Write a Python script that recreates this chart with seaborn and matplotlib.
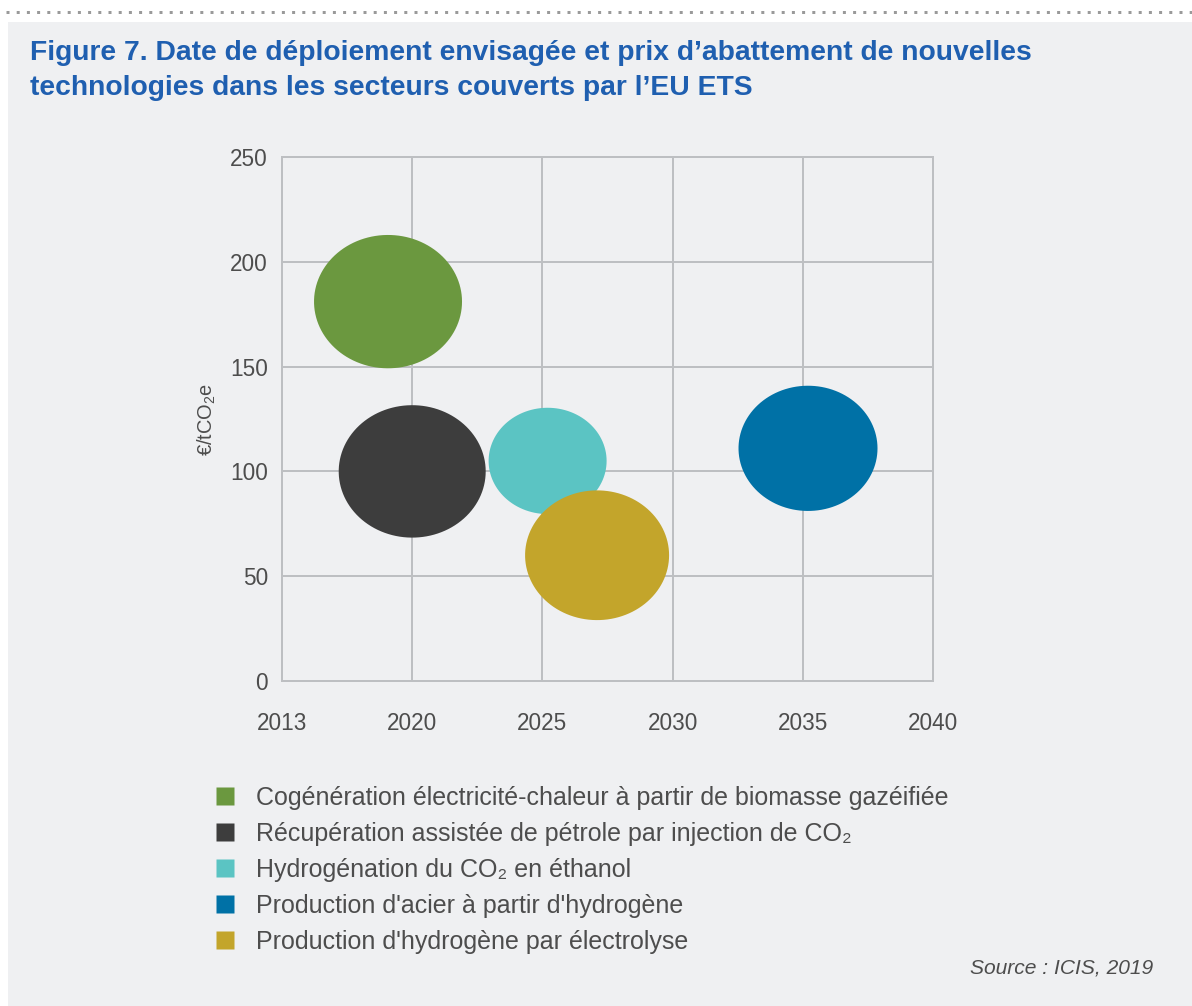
import numpy as np
import pandas as pd
import matplotlib
matplotlib.use("Agg")
import matplotlib.pyplot as plt
import matplotlib.path as mpath
from matplotlib.lines import Line2D
from matplotlib.patches import Rectangle
import seaborn as sns

# données
technologies = [
    "Cogénération électricité-chaleur à partir de biomasse gazéifiée",
    "Récupération assistée de pétrole par injection de CO₂",
    "Hydrogénation du CO₂ en éthanol",
    "Production d'acier à partir d'hydrogène",
    "Production d'hydrogène par électrolyse",
]
annee = [2018.7, 2020.0, 2025.2, 2035.2, 2027.1]
prix = [181, 100, 105, 111, 60]
taille_bulle = [148, 147, 118, 139, 144]
couleurs = ["#6b983f", "#3d3d3d", "#5bc4c3", "#0071a6", "#c3a52b"]

x_ticks = [2013, 2020, 2025, 2030, 2035, 2040]
y_ticks = [0, 50, 100, 150, 200, 250]

df = pd.DataFrame({"tech": technologies, "annee": annee, "prix": prix, "taille": taille_bulle})

sns.set_style("white")
plt.rcParams["font.family"] = ["Liberation Sans", "DejaVu Sans"]
plt.rcParams["mathtext.fontset"] = "custom"
plt.rcParams["mathtext.rm"] = "Liberation Sans"
plt.rcParams["mathtext.it"] = "Liberation Sans:italic"

fond = "#eff0f2"
gris_txt = "#4d4d4d"
gris_grille = "#bdbfc2"

DPI = 72
W, H = 1192, 1006
fig = plt.figure(figsize=(W / DPI, H / DPI), dpi=DPI, facecolor="white")
fig.patches.append(Rectangle((8 / W, 0), 1, 1 - 22 / H, transform=fig.transFigure,
                             facecolor=fond, edgecolor="none", zorder=-10))
fig.add_artist(Line2D([0.005, 1], [1 - 12 / H] * 2, transform=fig.transFigure,
                      color="#9a9a9a", lw=3, linestyle=(0, (1, 2.4))))

titre = ["Figure 7. Date de déploiement envisagée et prix d’abattement de nouvelles",
         "technologies dans les secteurs couverts par l’EU ETS"]
for ligne, yy in zip(titre, [53, 88]):
    fig.text(30 / W, 1 - yy / H, ligne, color="#1f5fb0", fontsize=28.2,
             fontweight="bold", va="center", ha="left")

ax = fig.add_axes([282 / W, 1 - 681 / H, 651 / W, 524 / H])
ax.set_facecolor(fond)

# axe des x : intervalles égaux entre les graduations
fwd = lambda v: np.interp(v, x_ticks, np.arange(len(x_ticks)))
inv = lambda v: np.interp(v, np.arange(len(x_ticks)), x_ticks)
ax.set_xscale("function", functions=(fwd, inv))

th = np.linspace(0, 2 * np.pi, 120)
ellipse = mpath.Path(np.column_stack([1.11 * np.cos(th), np.sin(th)]), closed=True)

sns.scatterplot(data=df, x="annee", y="prix", hue="tech", palette=couleurs,
                marker=ellipse, s=np.square(df["taille"]), linewidth=0,
                legend=False, ax=ax, zorder=3)

ax.set_xlim(2013, 2040)
ax.set_ylim(0, 250)
ax.set_xticks(x_ticks)
ax.set_xticklabels([str(t) for t in x_ticks])
ax.set_yticks(y_ticks)
ax.grid(True, color=gris_grille, lw=2)
ax.set_axisbelow(True)
for sp in ax.spines.values():
    sp.set_visible(True)
    sp.set_color(gris_grille)
    sp.set_linewidth(2)
ax.tick_params(axis="x", direction="out", length=10, width=2, color=gris_grille,
               labelsize=22.5, labelcolor=gris_txt, pad=21)
ax.tick_params(axis="y", length=0, labelsize=22.5, labelcolor=gris_txt, pad=14)
ax.set_xlabel("")
ax.set_ylabel("€/tCO$_2$e", fontsize=20, color=gris_txt, labelpad=12)

handles = [Line2D([], [], marker="s", linestyle="none", markersize=18,
                  markerfacecolor=c, markeredgecolor="none") for c in couleurs]
fig.legend(handles, technologies, loc="upper left",
           bbox_to_anchor=(200.5 / W, 1 - 773 / H), frameon=False,
           fontsize=25, handlelength=1.0, handletextpad=0.74, borderpad=0,
           labelspacing=0.48, labelcolor=gris_txt)

fig.text(1153 / W, 1 - 968 / H, "Source : ICIS, 2019", ha="right", va="center",
         fontsize=21, style="italic", color=gris_txt)

fig.savefig("out.png", dpi=DPI, facecolor="white")
